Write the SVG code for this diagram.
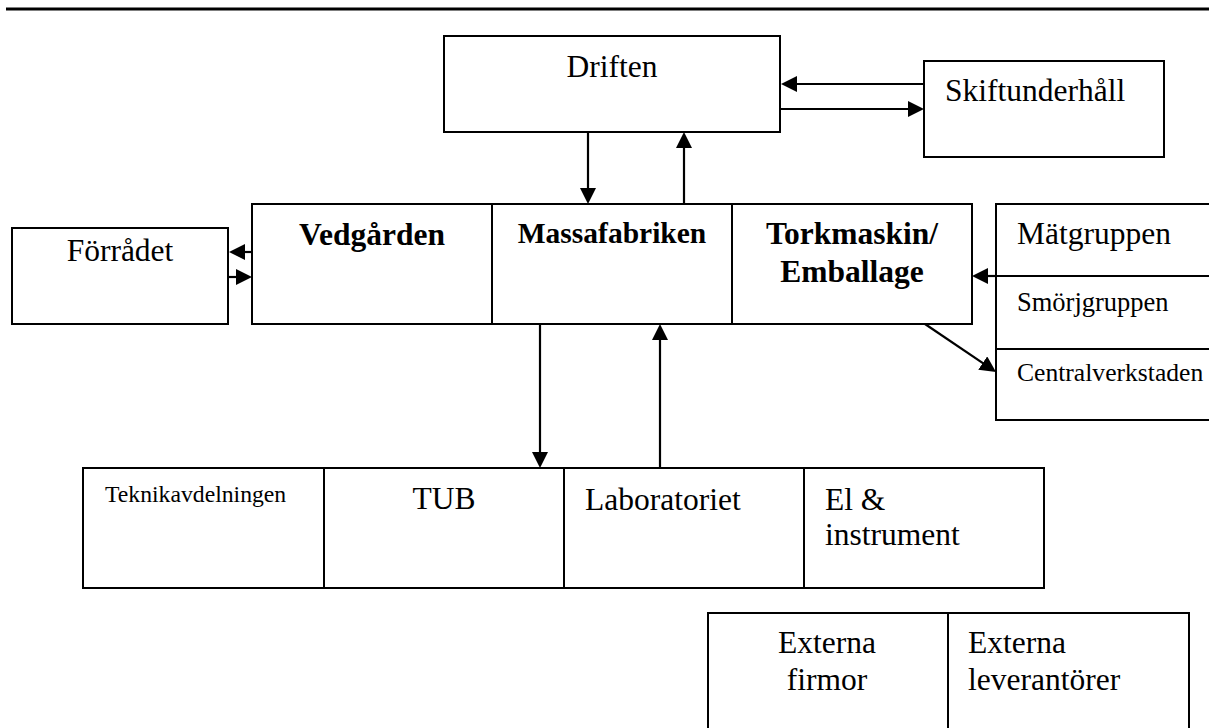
<svg xmlns="http://www.w3.org/2000/svg" width="1209" height="728" viewBox="0 0 1209 728">
  <style>
    .box { fill: #ffffff; stroke: #000000; stroke-width: 2; }
    .conn { stroke: #000000; stroke-width: 2.2; fill: none; marker-end: url(#head); }
    text { font-family: "Liberation Serif", "Times New Roman", serif; fill: #000000; font-size: 31.5px; }
    .b { font-weight: bold; }
    .mid { text-anchor: middle; }
  </style>
  <defs>
    <marker id="head" markerUnits="userSpaceOnUse" markerWidth="17" markerHeight="16" refX="6" refY="8" orient="auto">
      <path d="M0,0 L16,8 L0,16 z" fill="#000000"/>
    </marker>
  </defs>

  <rect width="1209" height="728" fill="#ffffff"/>

  <!-- page rule -->
  <line x1="6" y1="9" x2="1209" y2="9" stroke="#000000" stroke-width="3"/>

  <g id="driften">
    <rect class="box" x="444" y="36" width="336" height="96"/>
    <text class="mid" x="612" y="77">Driften</text>
  </g>

  <g id="skiftunderhall">
    <rect class="box" x="924" y="61" width="240" height="96"/>
    <text x="945" y="101">Skiftunderhåll</text>
  </g>

  <g id="forradet">
    <rect class="box" x="12" y="228" width="216" height="96"/>
    <text class="mid" x="120" y="261">Förrådet</text>
  </g>

  <g id="vedgarden">
    <rect class="box" x="252" y="204" width="240" height="120"/>
    <text class="mid b" x="372" y="245">Vedgården</text>
  </g>

  <g id="massafabriken">
    <rect class="box" x="492" y="204" width="240" height="120"/>
    <text class="mid b" x="612" y="243" style="font-size:29.5px">Massafabriken</text>
  </g>

  <g id="torkmaskin">
    <rect class="box" x="732" y="204" width="240" height="120"/>
    <text class="mid b" x="852" y="244">Torkmaskin/</text>
    <text class="mid b" x="852" y="282">Emballage</text>
  </g>

  <g id="matgruppen">
    <rect class="box" x="996" y="204" width="230" height="72"/>
    <text x="1017" y="244">Mätgruppen</text>
  </g>

  <g id="smorjgruppen">
    <rect class="box" x="996" y="276" width="230" height="73"/>
    <text x="1017" y="311" style="font-size:26.5px">Smörjgruppen</text>
  </g>

  <g id="centralverkstaden">
    <rect class="box" x="996" y="349" width="230" height="71"/>
    <text x="1017" y="381" style="font-size:25.6px">Centralverkstaden</text>
  </g>

  <g id="teknikavdelningen">
    <rect class="box" x="83" y="468" width="241" height="120"/>
    <text x="105" y="502" style="font-size:23.7px">Teknikavdelningen</text>
  </g>

  <g id="tub">
    <rect class="box" x="324" y="468" width="240" height="120"/>
    <text class="mid" x="444" y="509">TUB</text>
  </g>

  <g id="laboratoriet">
    <rect class="box" x="564" y="468" width="240" height="120"/>
    <text x="585" y="510">Laboratoriet</text>
  </g>

  <g id="el-instrument">
    <rect class="box" x="804" y="468" width="240" height="120"/>
    <text x="825" y="510">El &amp;</text>
    <text x="825" y="545">instrument</text>
  </g>

  <g id="externa-firmor">
    <rect class="box" x="708" y="613" width="240" height="130"/>
    <text class="mid" x="827" y="653">Externa</text>
    <text class="mid" x="827" y="690">firmor</text>
  </g>

  <g id="externa-leverantorer">
    <rect class="box" x="948" y="613" width="241" height="130"/>
    <text x="968" y="653">Externa</text>
    <text x="968" y="690">leverantörer</text>
  </g>

  <g id="connectors">
    <line class="conn" x1="924" y1="84" x2="791" y2="84"/>
    <line class="conn" x1="781" y1="109" x2="914" y2="109"/>
    <line class="conn" x1="588" y1="132" x2="588" y2="194"/>
    <line class="conn" x1="684" y1="204" x2="684" y2="142"/>
    <line class="conn" x1="252" y1="252" x2="239" y2="252"/>
    <line class="conn" x1="228" y1="277" x2="242" y2="277"/>
    <line class="conn" x1="540" y1="324" x2="540" y2="458"/>
    <line class="conn" x1="660" y1="468" x2="660" y2="334"/>
    <line class="conn" x1="996" y1="276" x2="982" y2="276"/>
    <line class="conn" x1="925" y1="324" x2="987.7" y2="366.4"/>
  </g>
</svg>
